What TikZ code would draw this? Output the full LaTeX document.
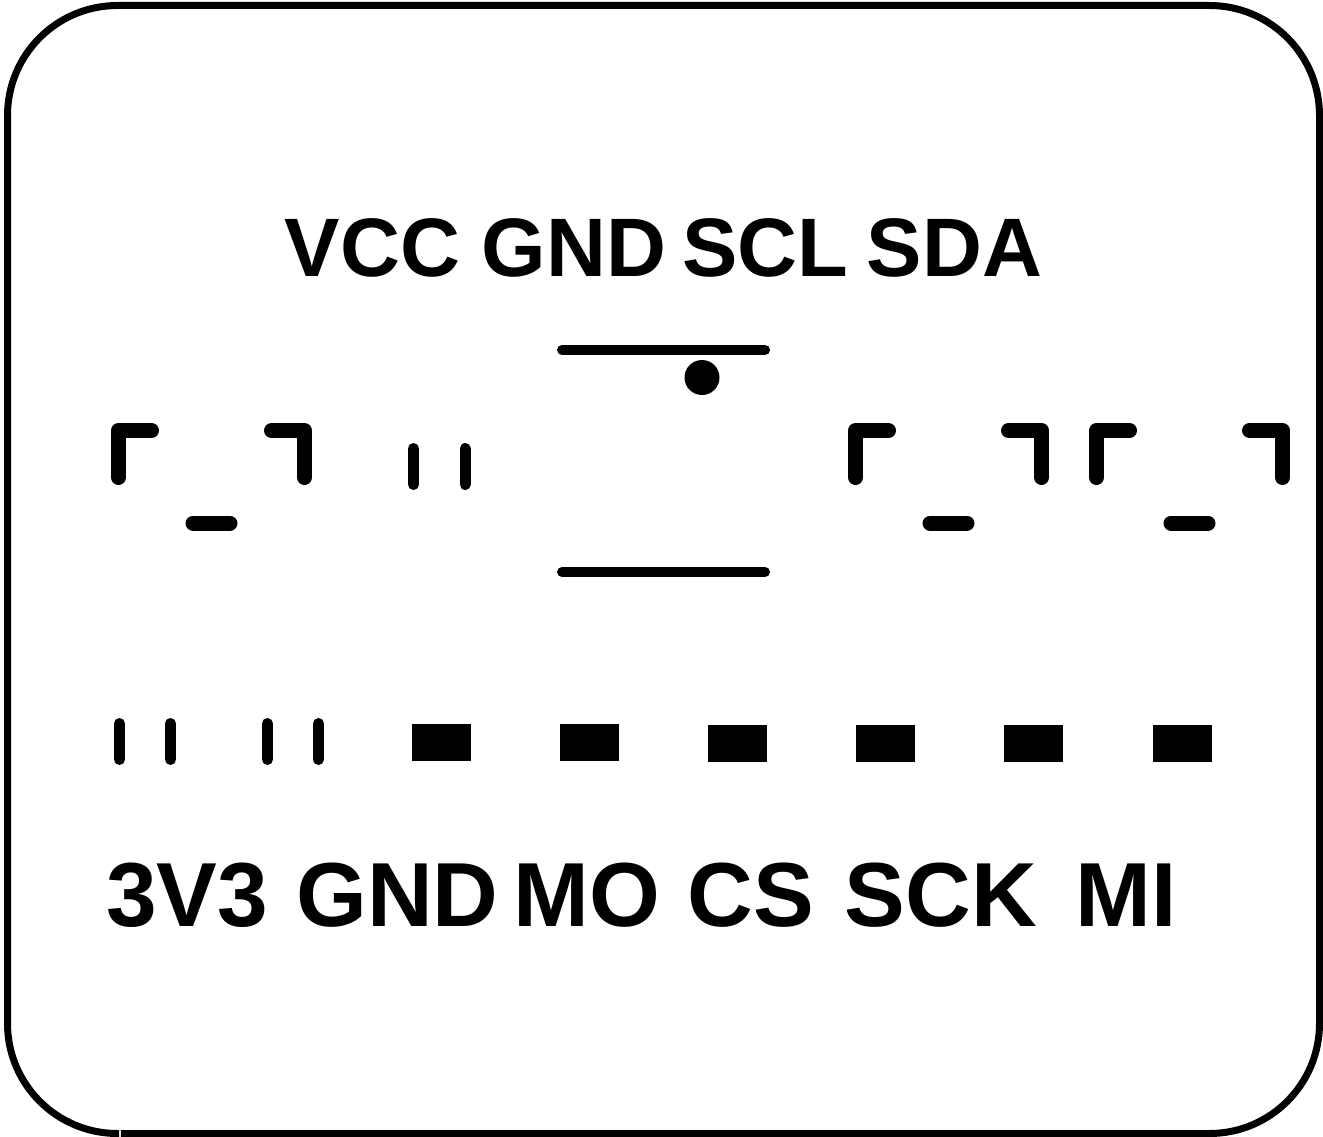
\documentclass[tikz,border=0pt]{standalone}
\usepackage{fontspec}
\setmainfont{Liberation Sans}
\def\picW{1323}
\def\picH{1137}
\tikzset{
  barline/.style={line width=10pt, line cap=round},
  tickline/.style={line width=11pt, line cap=round},
  corner/.style={line width=15pt, line cap=round, line join=round},
  toplabel/.style={anchor=base, inner sep=0pt, font=\fontsize{83}{83}\selectfont\bfseries},
  botlabel/.style={anchor=base, inner sep=0pt, font=\fontsize{91}{91}\selectfont\bfseries}
}
\begin{document}
\begin{tikzpicture}[x=1pt, y=-1pt]
        \useasboundingbox (0, 0) rectangle (\picW, \picH);
        \fill[white] (0, 0) rectangle (\picW, \picH);
        \draw[line width=7pt, rounded corners=110pt]
        (120.8, 1133.5) -- (1319.5, 1133.5) -- (1319.5, 5.5) -- (7.5, 5.5) -- (7.5, 1133.5) -- (119.2, 1133.5);
        % top labels
        \node[toplabel] (vcc) at (372.5, 276) {VCC};
        \node[toplabel] (gnda) at (574, 276) {GND};
        \node[toplabel] (scl) at (765, 276) {SCL};
        \node[toplabel] (sda) at (954.5, 276) {SDA};
        % switch
        \draw[barline] (562, 350) -- (765, 350);
        \draw[barline] (562, 572) -- (765, 572);
        \fill (702, 377.5) circle [radius=17.5];
        % corner marks
        \foreach \x in {118.5, 855.5, 1096.5} {
            \draw[corner] (\x, 477.5) -- (\x, 430.5) -- (\x+33, 430.5);
            \draw[corner] (\x+186, 477.5) -- (\x+186, 430.5) -- (\x+153, 430.5);
            \draw[corner] (\x+74.5, 523) -- (\x+111.5, 523);
        }
        \foreach \x in {413.5, 465} {
            \draw[tickline] (\x, 448.5) -- (\x, 484.5);
        }
        % bottom pins
        \foreach \x in {119.5, 170.5, 267.5, 318.5} {
            \draw[tickline] (\x, 723.5) -- (\x, 759.5);
        }
        \foreach \x/\y in {412/723.5, 560/723.5, 708/724.5, 856/724.5, 1004/724.5, 1153/724.5} {
            \fill (\x, \y) rectangle +(59, 37);
        }
        % bottom labels
        \node[botlabel] (vvv) at (187, 926.5) {3V3};
        \node[botlabel] (gndb) at (397.5, 926.5) {GND};
        \node[botlabel] (mo) at (586.5, 926.5) {MO};
        \node[botlabel] (cs) at (751, 926.5) {CS};
        \node[botlabel] (sck) at (941, 926.5) {SCK};
        \node[botlabel] (mi) at (1126.5, 926.5) {MI};
      \end{tikzpicture}
\end{document}
